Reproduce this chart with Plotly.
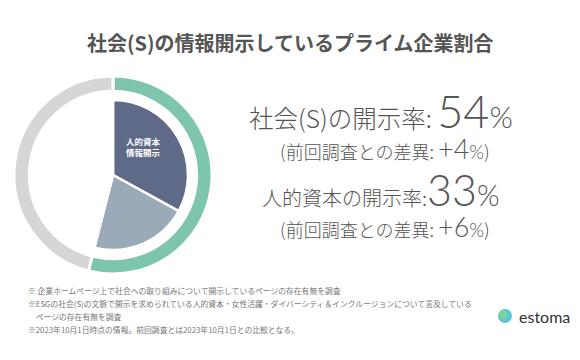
import plotly.graph_objects as go

W, H = 580, 360

# ---- data ----
outer_labels = ["社会(S)開示", "非開示"]
outer_values = [54, 46]
inner_labels = ["人的資本情報開示", "その他の社会(S)開示", "非開示"]
inner_values = [33, 21, 46]
social_rate = 54
social_diff = 4
human_rate = 33
human_diff = 6
title_text = "社会(S)の情報開示しているプライム企業割合"
footnotes = [
    "※ 企業ホームページ上で社会への取り組みについて開示しているページの存在有無を調査",
    "※ESGの社会(S)の文脈で開示を求められている人的資本・女性活躍・ダイバーシティ＆インクルージョンについて言及している",
    "　ページの存在有無を調査",
    "※2023年10月1日時点の情報。前回調査とは2023年10月1日との比較となる。",
]

GREEN = "#7DC5AD"
GRAY = "#D6D6D6"
DARK = "#5E6A88"
LIGHT = "#9AAAB9"
TXT = "#555555"
JP = "Noto Sans CJK JP"
NUM = "Lato"


def px(x):
    return x / W


def py(y):
    return 1 - y / H


cx, cy = 113, 175
R_out, R_in = 99, 75


def dom(r):
    return dict(x=[px(cx - r), px(cx + r)], y=[py(cy + r), py(cy - r)])


fig = go.Figure()
fig.add_trace(go.Pie(
    labels=outer_labels, values=outer_values, sort=False, direction="clockwise",
    rotation=0, hole=0.845, domain=dom(R_out), textinfo="none", hoverinfo="label+value",
    marker=dict(colors=[GREEN, GRAY], line=dict(color="white", width=3)),
    showlegend=False,
))
fig.add_trace(go.Pie(
    labels=inner_labels, values=inner_values, sort=False, direction="clockwise",
    rotation=0, domain=dom(R_in), textinfo="none", hoverinfo="label+value",
    marker=dict(colors=[DARK, LIGHT, "white"], line=dict(color="white", width=2.5)),
    showlegend=False,
))

ann = []
ann.append(dict(x=px(290), y=py(42), text=f"<b>{title_text}</b>", showarrow=False,
                xanchor="center", yanchor="middle",
                font=dict(family=JP, size=20, color=TXT)))
ann.append(dict(x=px(143), y=py(146), text="<b>人的資本<br>情報開示</b>", showarrow=False,
                xanchor="center", yanchor="middle",
                font=dict(family=JP, size=8.5, color="white")))


def num(s, size):
    return f"<span style='font-family:{NUM};font-weight:300;font-size:{size}px'>{s}</span>"


ann.append(dict(x=px(381), y=py(111),
                text=f"社会(S)の開示率: {num(social_rate, 45)}{num('%', 30)}",
                showarrow=False, xanchor="center", yanchor="middle",
                font=dict(family=JP, size=24.5, color=TXT, weight=300)))
ann.append(dict(x=px(385), y=py(148),
                text=f"(前回調査との差異: {num('+' + str(social_diff), 27)}{num('%', 19)})",
                showarrow=False, xanchor="center", yanchor="middle",
                font=dict(family=JP, size=18, color=TXT, weight=300)))
ann.append(dict(x=px(381), y=py(189),
                text=f"人的資本の開示率:{num(human_rate, 43)}{num('%', 29)}",
                showarrow=False, xanchor="center", yanchor="middle",
                font=dict(family=JP, size=20, color=TXT, weight=300)))
ann.append(dict(x=px(385), y=py(226),
                text=f"(前回調査との差異: {num('+' + str(human_diff), 27)}{num('%', 19)})",
                showarrow=False, xanchor="center", yanchor="middle",
                font=dict(family=JP, size=18, color=TXT, weight=300)))

for i, line in enumerate(footnotes):
    ann.append(dict(x=px(26), y=py(290 + 13 * i), text=line, showarrow=False,
                    xanchor="left", yanchor="middle",
                    font=dict(family=JP, size=7.8, color="#777777")))

ann.append(dict(x=px(517), y=py(316), text="estoma", showarrow=False,
                xanchor="left", yanchor="middle",
                font=dict(family="Lato", size=16, color="#333333")))

shapes = [
    dict(type="circle", xref="paper", yref="paper",
         x0=px(498), x1=px(512), y0=py(323), y1=py(309),
         fillcolor="#5CC6D0", line=dict(width=0)),
    dict(type="circle", xref="paper", yref="paper",
         x0=px(499), x1=px(507), y0=py(319), y1=py(310),
         fillcolor="#7FD3A0", line=dict(width=0)),
]

fig.update_layout(
    width=W, height=H, margin=dict(l=0, r=0, t=0, b=0),
    paper_bgcolor="white", plot_bgcolor="white",
    annotations=ann, shapes=shapes, showlegend=False,
)

fig.write_html("out.html")
